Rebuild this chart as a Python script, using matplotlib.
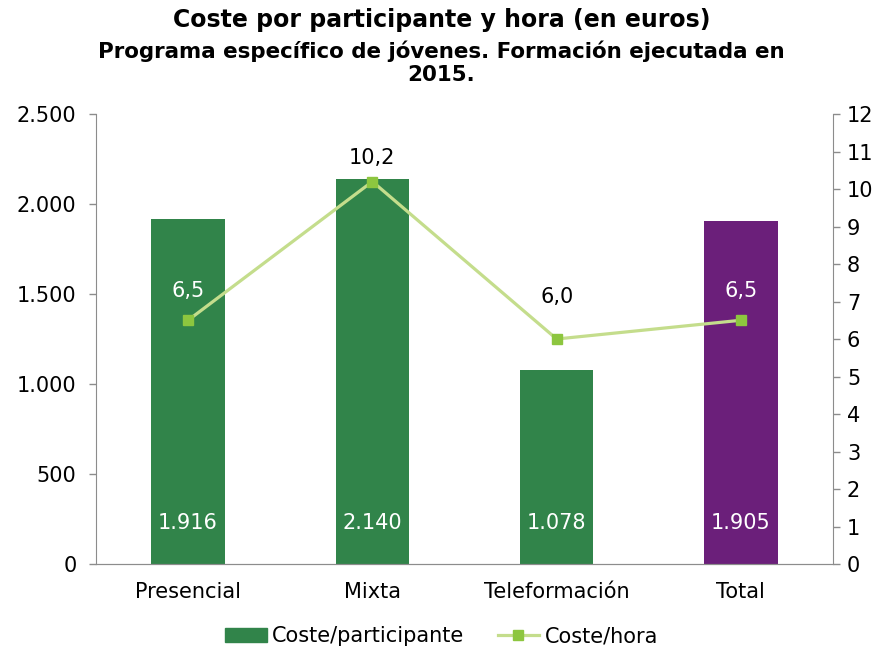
import matplotlib
matplotlib.use("Agg")
import matplotlib.pyplot as plt
from matplotlib.lines import Line2D
from matplotlib.patches import Patch

categories = ["Presencial", "Mixta", "Teleformación", "Total"]
coste_participante = [1916, 2140, 1078, 1905]
coste_hora = [6.5, 10.2, 6.0, 6.5]
bar_labels = ["1.916", "2.140", "1.078", "1.905"]
line_labels = ["6,5", "10,2", "6,0", "6,5"]
left_ticks = [0, 500, 1000, 1500, 2000, 2500]
left_ticklabels = ["0", "500", "1.000", "1.500", "2.000", "2.500"]
right_ticks = list(range(0, 13))

green = "#31844A"
purple = "#6B1F7A"
line_c = "#C4DD8C"
marker_c = "#8DC63F"
axis_c = "#8C8C8C"
FS = 15

plt.rcParams['font.family'] = ['DejaVu Sans']
fig = plt.figure(figsize=(8.83, 6.5), dpi=100)
ax = fig.add_axes([0.1087, 0.1323, 0.8347, 0.6923])
x = list(range(len(categories)))
colors = [green, green, green, purple]
ax.bar(x, coste_participante, width=0.4, color=colors, zorder=2)
ax.set_xlim(-0.5, 3.5)
ax.set_ylim(0, 2500)
ax.set_yticks(left_ticks)
ax.set_yticklabels(left_ticklabels)
ax.set_xticks(x)
ax.set_xticklabels(categories)
for xi, lab in zip(x, bar_labels):
    ax.text(xi, 230, lab, color="white", ha="center", va="center", fontsize=FS, zorder=5)

ax2 = ax.twinx()
ax2.plot(x, coste_hora, color=line_c, lw=2.3, marker="s", markersize=7,
         markerfacecolor=marker_c, markeredgecolor=marker_c, zorder=3)
ax2.set_ylim(0, 12)
ax2.set_yticks(right_ticks)
label_colors = ["white", "black", "black", "white"]
label_offsets = [21, 17, 30, 21]
for xi, v, lab, c, off in zip(x, coste_hora, line_labels, label_colors, label_offsets):
    ax2.annotate(lab, (xi, v), xytext=(0, off), textcoords="offset points",
                 color=c, ha="center", va="center", fontsize=FS)

for a in (ax, ax2):
    a.spines["top"].set_visible(False)
    a.spines["left"].set_color(axis_c)
    a.spines["right"].set_color(axis_c)
    a.spines["bottom"].set_color(axis_c)
    a.tick_params(labelsize=FS, colors="black")
    a.tick_params(axis="x", length=0, pad=13)
ax.tick_params(axis="y", color=axis_c, length=5, width=1, pad=9)
ax2.tick_params(axis="y", color=axis_c, length=5, width=1, pad=5)
ax.spines["right"].set_visible(False)
ax2.spines["left"].set_visible(False)

fig.text(0.5, 0.969, "Coste por participante y hora (en euros)", ha="center", va="center",
         fontsize=17, fontweight="bold")
fig.text(0.5, 0.903, "Programa específico de jóvenes. Formación ejecutada en\n2015.",
         ha="center", va="center", fontsize=15.4, fontweight="bold", linespacing=1.2)

handles = [Patch(color=green),
           Line2D([0], [0], color=line_c, lw=2.3, marker="s", markersize=7,
                  markerfacecolor=marker_c, markeredgecolor=marker_c)]
fig.legend(handles, ["Coste/participante", "Coste/hora"], loc="center",
           bbox_to_anchor=(0.5, 0.021), ncol=2, frameon=False, fontsize=FS,
           handlelength=2.0, columnspacing=1.6, handletextpad=0.25)

fig.savefig("out.png", dpi=100)
